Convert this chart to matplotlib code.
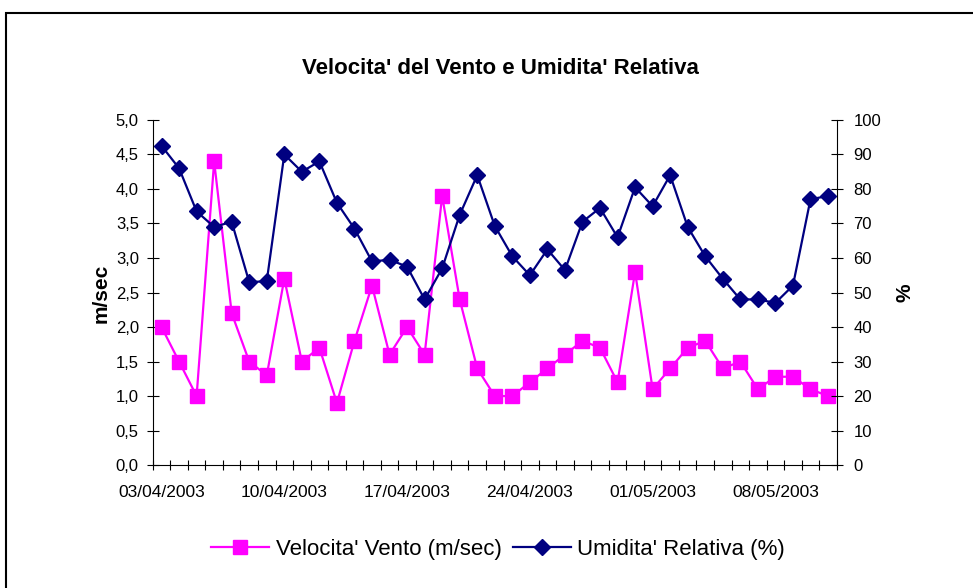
import numpy as np
import matplotlib.pyplot as plt
from matplotlib.patches import Rectangle
import datetime as dt

plt.rcParams["font.family"] = ["Liberation Sans", "DejaVu Sans"]

START = dt.date(2003, 4, 3)
N_DAYS = 39

# Velocita' vento (m/sec)
vento = [2.0, 1.5, 1.0, 4.4, 2.2, 1.5, 1.3, 2.7, 1.5, 1.7,
         0.9, 1.8, 2.6, 1.6, 2.0, 1.6, 3.9, 2.4, 1.4, 1.0,
         1.0, 1.2, 1.4, 1.6, 1.8, 1.7, 1.2, 2.8, 1.1, 1.4,
         1.7, 1.8, 1.4, 1.5, 1.1, 1.28, 1.28, 1.1, 1.0]

# Umidita' relativa (%)
umidita = [92.5, 86, 73.5, 69, 70.5, 53, 53.3, 90, 85, 88,
           76, 68.5, 59, 59.5, 57.5, 48, 57, 72.5, 84, 69.3,
           60.5, 55, 62.5, 56.5, 70.5, 74.5, 66, 80.5, 75, 84,
           69, 60.5, 54, 48, 48, 47, 52, 77, 78]

dates = [START + dt.timedelta(days=i) for i in range(N_DAYS)]
label_idx = list(range(0, N_DAYS, 7))
date_labels = [dates[i].strftime("%d/%m/%Y") for i in label_idx]

x = np.arange(N_DAYS)

fig = plt.figure(figsize=(9.73, 5.88), dpi=100)
ax = fig.add_axes([0.157, 0.209, 0.703, 0.587])
ax2 = ax.twinx()

# outer chart border
fig.patches.append(Rectangle((6 / 973, -0.1), 1.1, 1.1 - 13 / 588,
                             transform=fig.transFigure, fill=False,
                             edgecolor="black", linewidth=1.5))

l1, = ax.plot(x, vento, color="#FF00FF", linewidth=1.6, marker="s",
              markersize=10, markerfacecolor="#FF00FF", markeredgecolor="#FF00FF",
              label="Velocita' Vento (m/sec)", zorder=3)
l2, = ax2.plot(x, umidita, color="#000080", linewidth=1.6, marker="D",
               markersize=8, markerfacecolor="#000080", markeredgecolor="#000080",
               label="Umidita' Relativa (%)", zorder=3)

ax.set_xlim(-0.5, N_DAYS - 0.5)
ax.set_ylim(0, 5)
ax2.set_ylim(0, 100)

yt = np.arange(0, 5.01, 0.5)
ax.set_yticks(yt)
ax.set_yticklabels([f"{v:.1f}".replace(".", ",") for v in yt])
ax2.set_yticks(np.arange(0, 101, 10))

ax.set_xticks(label_idx)
ax.set_xticklabels(date_labels)
ax.set_xticks(np.arange(-0.5, N_DAYS, 1), minor=True)
ax.tick_params(axis="x", which="major", length=0, labelsize=12.5, pad=14)
ax.tick_params(axis="x", which="minor", direction="inout", length=7, width=0.8)
ax.tick_params(axis="y", direction="inout", length=8, width=0.8, labelsize=12, pad=6)
ax2.tick_params(axis="y", direction="inout", length=8, width=0.8, labelsize=12, pad=8)

for a in (ax, ax2):
    a.spines["top"].set_visible(False)
    for s in ("left", "right", "bottom"):
        a.spines[s].set_linewidth(0.8)
ax.spines["right"].set_visible(False)
ax2.spines["left"].set_visible(False)
ax2.spines["bottom"].set_visible(False)

fig.text(101 / 973, 1 - 293 / 588, "m/sec", rotation=90, ha="center", va="center",
         fontsize=15, fontweight="bold")
fig.text(905 / 973, 1 - 293 / 588, "%", rotation=90, ha="center", va="center",
         fontsize=15, fontweight="bold")

fig.text(0.514, 1 - 68 / 588, "Velocita' del Vento e Umidita' Relativa",
         ha="center", va="center", fontsize=16, fontweight="bold")

fig.legend(handles=[l1, l2], loc="center", bbox_to_anchor=(0.512, 1 - 549 / 588),
           ncol=2, frameon=False, fontsize=16, handlelength=2.6,
           columnspacing=0.5, handletextpad=0.3)

fig.savefig("out.png", dpi=100)
